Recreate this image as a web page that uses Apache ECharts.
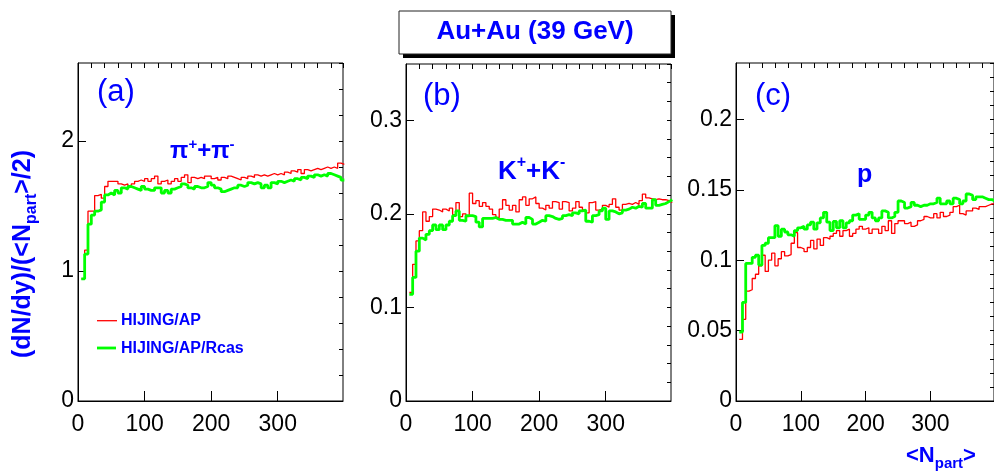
<!DOCTYPE html>
<html><head><meta charset="utf-8">
<script src="https://cdn.jsdelivr.net/npm/echarts@6/dist/echarts.min.js"></script>
<style>html,body{margin:0;padding:0;background:#fff}#c{width:994px;height:474px}</style>
</head><body><div id="c"></div>
<script>
// ---- data: histogram bins (left edges) of <N_part>, width 5 ----
const binLeft = [5,10,15,20,25,30,35,40,45,50,55,60,65,70,75,80,85,90,95,100,
  105,110,115,120,125,130,135,140,145,150,155,160,165,170,175,180,185,190,195,200,
  205,210,215,220,225,230,235,240,245,250,255,260,265,270,275,280,285,290,295,300,
  305,310,315,320,325,330,335,340,345,350,355,360,365,370,375,380,385,390,395];
const binEnd = 400;

// (a) pi+ + pi-
const piRed = [0.94,1.16,1.46,1.46,1.58,1.59,1.56,1.65,1.69,1.69,
  1.69,1.67,1.66,1.67,1.65,1.67,1.69,1.70,1.69,1.71,
  1.69,1.71,1.73,1.67,1.69,1.70,1.67,1.69,1.71,1.69,
  1.72,1.74,1.68,1.72,1.71,1.72,1.71,1.73,1.73,
  1.71,1.72,1.70,1.72,1.71,1.73,1.72,1.71,1.70,1.72,
  1.71,1.73,1.72,1.74,1.73,1.74,1.73,1.74,1.75,1.74,
  1.75,1.74,1.76,1.75,1.77,1.76,1.78,1.75,1.78,1.77,
  1.78,1.79,1.78,1.79,1.80,1.79,1.80,1.79,1.83,1.82];
const piGreen = [0.94,1.13,1.36,1.43,1.46,1.47,1.53,1.585,1.60,1.585,
  1.62,1.60,1.64,1.63,1.65,1.64,1.63,1.62,1.65,1.63,
  1.62,1.62,1.64,1.64,1.60,1.62,1.60,1.63,1.64,1.65,
  1.67,1.66,1.64,1.63,1.65,1.64,1.64,1.65,1.68,
  1.66,1.64,1.63,1.61,1.62,1.63,1.64,1.64,1.66,1.65,
  1.66,1.68,1.67,1.68,1.67,1.64,1.66,1.64,1.68,1.67,
  1.69,1.68,1.69,1.70,1.69,1.71,1.70,1.72,1.71,1.73,
  1.72,1.74,1.73,1.74,1.73,1.75,1.74,1.73,1.72,1.70];

// (b) K+ + K-
const kRed = [0.116,0.146,0.171,0.182,0.202,0.192,0.197,0.205,0.204,0.202,
  0.205,0.203,0.206,0.199,0.212,0.197,0.200,0.197,0.222,0.211,
  0.214,0.208,0.212,0.208,0.205,0.199,0.196,0.205,0.215,0.209,
  0.204,0.209,0.202,0.215,0.218,0.209,0.216,0.218,0.211,
  0.206,0.204,0.209,0.206,0.213,0.212,0.205,0.213,0.212,0.203,
  0.206,0.213,0.207,0.204,0.201,0.212,0.213,0.204,0.205,0.209,
  0.207,0.210,0.216,0.207,0.204,0.210,0.211,0.210,0.212,0.210,
  0.214,0.221,0.217,0.216,0.215,0.216,0.215,0.215,0.214,0.212];
const kGreen = [0.114,0.132,0.160,0.174,0.172,0.178,0.182,0.188,0.183,0.188,
  0.183,0.188,0.192,0.198,0.203,0.193,0.192,0.198,0.198,0.197,
  0.191,0.186,0.195,0.195,0.195,0.196,0.194,0.194,0.193,0.193,
  0.193,0.189,0.189,0.191,0.189,0.196,0.194,0.189,0.191,
  0.193,0.192,0.198,0.197,0.195,0.194,0.195,0.198,0.199,0.198,
  0.201,0.200,0.203,0.204,0.192,0.191,0.198,0.199,0.203,0.206,
  0.194,0.203,0.202,0.200,0.201,0.204,0.205,0.207,0.206,0.208,
  0.207,0.211,0.206,0.206,0.215,0.209,0.210,0.211,0.213,0.215];

// (c) p
const pRed = [0.0437,0.058,0.078,0.079,0.087,0.090,0.096,0.1035,0.092,0.100,
  0.105,0.096,0.101,0.106,0.103,0.104,0.112,0.1195,0.109,0.108,
  0.106,0.109,0.114,0.108,0.115,0.1105,0.116,0.115,0.117,0.119,
  0.121,0.117,0.121,0.122,0.117,0.119,0.122,0.124,0.122,
  0.123,0.119,0.122,0.122,0.119,0.124,0.121,0.128,0.119,0.126,
  0.128,0.128,0.126,0.127,0.124,0.125,0.128,0.129,0.131,0.130,
  0.130,0.133,0.130,0.134,0.131,0.132,0.134,0.138,0.139,0.133,
  0.132,0.135,0.135,0.137,0.136,0.138,0.138,0.139,0.140,0.140];
const pGreen = [0.049,0.070,0.0977,0.0977,0.102,0.1035,0.0965,0.1105,0.112,0.116,
  0.116,0.1245,0.117,0.122,0.120,0.118,0.117,0.121,0.123,0.124,
  0.122,0.125,0.127,0.122,0.1265,0.130,0.134,0.127,0.121,0.1275,
  0.123,0.128,0.123,0.1265,0.128,0.132,0.133,0.129,0.129,
  0.132,0.134,0.130,0.128,0.130,0.135,0.134,0.130,0.131,0.134,
  0.142,0.141,0.137,0.138,0.141,0.139,0.138,0.139,0.139,0.140,
  0.140,0.141,0.144,0.140,0.140,0.142,0.140,0.144,0.143,0.140,
  0.142,0.147,0.146,0.143,0.145,0.145,0.144,0.143,0.143,0.142];

const seriesNames = ['HIJING/AP', 'HIJING/AP/Rcas'];
const panelLabels = ['(a)', '(b)', '(c)'];
const xMax = 398;
const yMax = [2.6, 0.36, 0.24];
const yMajor = [1, 0.1, 0.05];
const yMinor = [0.2, 0.02, 0.01];
const xMajor = 100, xMinor = 20;

// ---- layout / style ----
const FONT = '"Liberation Sans", Arial, Helvetica, sans-serif';
const BLUE = '#0000ff';
const RED = '#ff0000', GREEN = '#00ff00';
const grids = [
  {left: 78, top: 63, width: 265, height: 338},
  {left: 406, top: 64, width: 265, height: 337},
  {left: 736, top: 63, width: 265, height: 338}
];
const redSets = [piRed, kRed, pRed];
const greenSets = [piGreen, kGreen, pGreen];

function steps(vals) {
  const d = binLeft.map((x, i) => [x, vals[i]]);
  d.push([binEnd, vals[vals.length - 1]]);
  return d;
}

const xAxis = [], yAxis = [], series = [];
grids.forEach((g, i) => {
  xAxis.push({gridIndex: i, type: 'value', min: 0, max: xMax, interval: xMajor,
    axisLine: {show: true, onZero: false, lineStyle: {color: '#000', width: 1}},
    axisTick: {show: true, inside: true, length: 10, lineStyle: {color: '#000', width: 1}},
    axisLabel: {show: true, margin: 12, fontSize: 23, color: '#000', fontFamily: FONT, showMaxLabel: false},
    splitLine: {show: false}});
  xAxis.push({gridIndex: i, type: 'value', min: 0, max: xMax, interval: xMinor,
    axisLine: {show: false, onZero: false},
    axisTick: {show: true, inside: true, length: 5, lineStyle: {color: '#000', width: 1}},
    axisLabel: {show: false}, splitLine: {show: false}});
  yAxis.push({gridIndex: i, type: 'value', min: 0, max: yMax[i], interval: yMajor[i],
    axisLine: {show: true, onZero: false, lineStyle: {color: '#000', width: 1}},
    axisTick: {show: true, inside: true, length: 8, lineStyle: {color: '#000', width: 1}},
    axisLabel: {show: true, margin: 4, fontSize: 23, color: '#000', fontFamily: FONT, showMaxLabel: false},
    splitLine: {show: false}});
  yAxis.push({gridIndex: i, type: 'value', min: 0, max: yMax[i], interval: yMinor[i],
    axisLine: {show: false, onZero: false},
    axisTick: {show: true, inside: true, length: 4, lineStyle: {color: '#000', width: 1}},
    axisLabel: {show: false}, splitLine: {show: false}});
  series.push({name: seriesNames[0], type: 'line', xAxisIndex: 2 * i, yAxisIndex: 2 * i,
    step: 'end', symbol: 'none', data: steps(redSets[i]), clip: true,
    lineStyle: {color: RED, width: 1.3}, z: 3});
  series.push({name: seriesNames[1], type: 'line', xAxisIndex: 2 * i, yAxisIndex: 2 * i,
    step: 'end', symbol: 'none', data: steps(greenSets[i]), clip: true,
    lineStyle: {color: GREEN, width: 2.8}, z: 4});
});

// text helpers
const mctx = document.createElement('canvas').getContext('2d');
function fontStr(size, bold) { return (bold ? 'bold ' : '') + size + 'px ' + FONT; }
function tw(t, size, bold) { mctx.font = fontStr(size, bold); return mctx.measureText(t).width; }
function txt(t, x, y, size, bold, color, align) {
  return {type: 'text', silent: true, z: 100, style: {text: t, x: x, y: y, font: fontStr(size, bold),
    fill: color || BLUE, align: align || 'left', verticalAlign: 'middle',
    textAlign: align || 'left', textVerticalAlign: 'middle'}};
}
// pieces: [text, size, dy]
function run(pieces, x, y, bold, color) {
  const out = [];
  let cx = x;
  pieces.forEach(p => {
    out.push(txt(p[0], cx, y + (p[2] || 0), p[1], bold, color));
    cx += tw(p[0], p[1], bold);
  });
  return out;
}

const graphic = [];
// title box with shadow
graphic.push({type: 'rect', shape: {x: 403, y: 15, width: 272, height: 43}, style: {fill: '#000'}, z: 90, silent: true});
graphic.push({type: 'rect', shape: {x: 399, y: 11, width: 272, height: 43}, style: {fill: '#fff', stroke: '#222', lineWidth: 1}, z: 91, silent: true});
graphic.push(txt('Au+Au (39 GeV)', 535, 32, 26, true, BLUE, 'center'));
// panel labels
graphic.push(txt(panelLabels[0], 97, 92, 31, false));
graphic.push(txt(panelLabels[1], 423, 96, 31, false));
graphic.push(txt(panelLabels[2], 755, 96, 31, false));
// species labels
run([['\u03c0', 24], ['+', 15, -7], ['+', 24], ['\u03c0', 24], ['-', 15, -7]], 170, 151.6, true).forEach(e => graphic.push(e));
run([['K', 26], ['+', 16, -9], ['+', 26], ['K', 26], ['-', 16, -9]], 498, 172, true).forEach(e => graphic.push(e));
graphic.push(txt('p', 857, 175, 25, true));
// legend
graphic.push({type: 'line', shape: {x1: 97, y1: 320.7, x2: 117, y2: 320.7}, style: {stroke: RED, lineWidth: 1.3}, z: 100, silent: true});
graphic.push({type: 'line', shape: {x1: 97, y1: 348, x2: 116, y2: 348}, style: {stroke: GREEN, lineWidth: 2.8}, z: 100, silent: true});
graphic.push(txt(seriesNames[0], 121, 321, 16, true));
graphic.push(txt(seriesNames[1], 121, 348.5, 16, true));
// x axis title
run([['<N', 22], ['part', 15, 7.5], ['>', 22]], 906, 456, true).forEach(e => graphic.push(e));
// y axis title (rotated)
graphic.push({type: 'group', x: 23, y: 358, rotation: Math.PI / 2, silent: true,
  children: run([['(dN/dy)/(<N', 25], ['part', 16, 9], ['>/2)', 25]], 0, 0, true)});

const chart = echarts.init(document.getElementById('c'), null, {renderer: 'canvas'});
chart.setOption({
  animation: false,
  backgroundColor: '#fff',
  grid: grids.map(g => Object.assign({show: true, borderColor: '#000', borderWidth: 1, backgroundColor: 'transparent', containLabel: false}, g)),
  xAxis: xAxis, yAxis: yAxis, series: series, graphic: graphic
});
</script>
</body></html>
